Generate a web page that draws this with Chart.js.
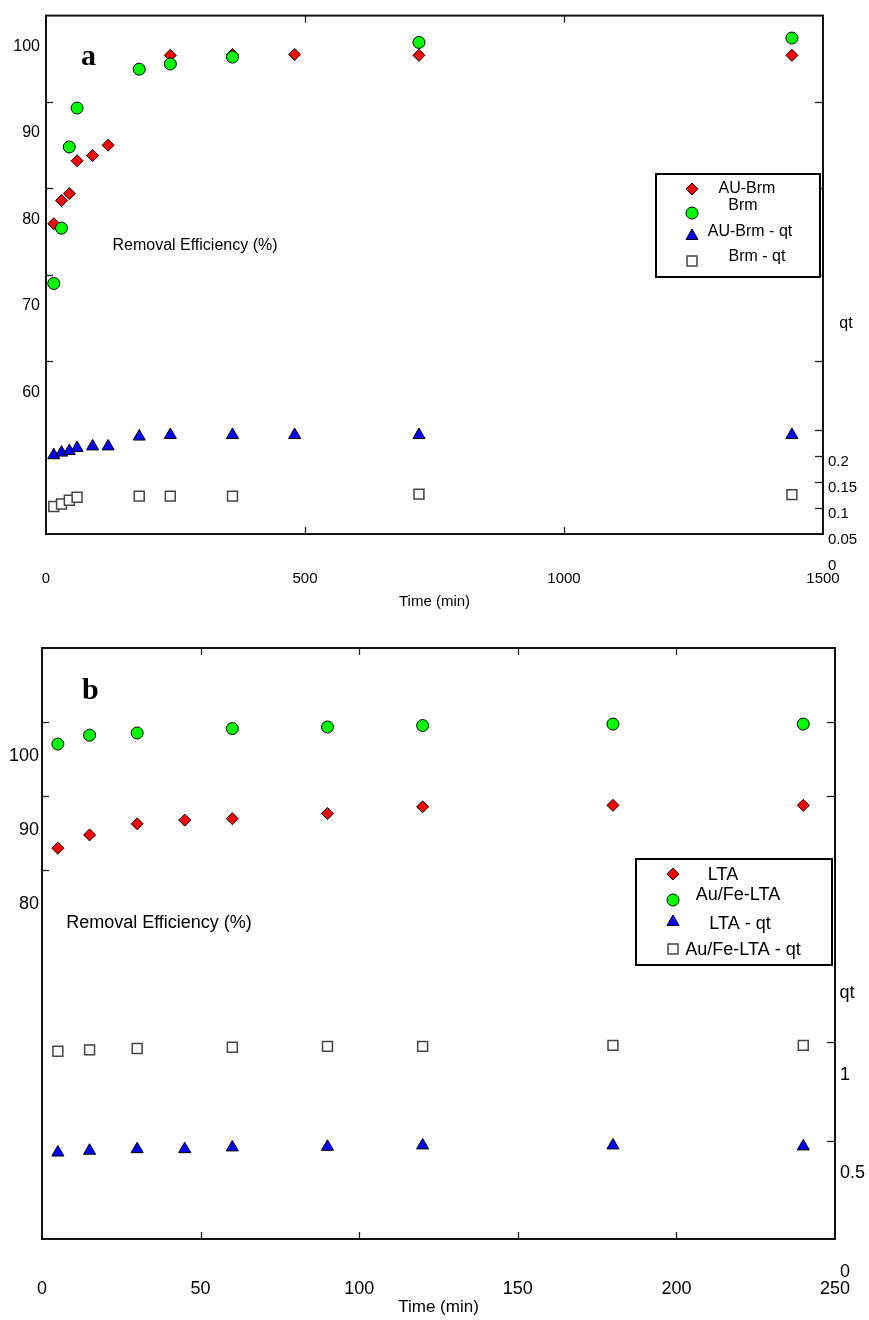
<!DOCTYPE html>
<html>
<head>
<meta charset="utf-8">
<script src="https://cdn.jsdelivr.net/npm/chart.js"></script>
<style>
  body { margin: 0; background: #fff; }
  canvas { display: block; }
</style>
</head>
<body>
<canvas id="chartA" width="869" height="620"></canvas>
<canvas id="chartB" width="869" height="700"></canvas>
<script>
// ---- panel a: Brm / AU-Brm ----
const timesA = [15, 30, 45, 60, 90, 120, 180, 240, 360, 480, 720, 1440];
const auBrmRE = [75.9, 78.6, 79.4, 83.2, 83.8, 85.0, null, 95.4, 95.5, 95.5, 95.4, 95.4];
const brmRE = [69.0, 75.4, 84.8, 89.3, null, null, 93.8, 94.4, 95.2, null, 96.9, 97.4];
const auBrmQt = [0.202, 0.207, 0.210, 0.216, 0.219, 0.219, 0.238, 0.241, 0.241, 0.241, 0.241, 0.241];
const brmQt = [0.103, 0.108, 0.115, 0.121, null, null, 0.123, 0.123, 0.123, null, 0.127, 0.126];
const reTicksA = [60, 70, 80, 90, 100];
const qtTicksA = [0, 0.05, 0.1, 0.15, 0.2];

// ---- panel b: LTA / Au/Fe-LTA ----
const timesB = [5, 15, 30, 45, 60, 90, 120, 180, 240];
const ltaRE = [82.9, 84.7, 86.2, 86.7, 86.9, 87.6, 88.5, 88.7, 88.7];
const auFeLtaRE = [97.0, 98.2, 98.5, null, 99.1, 99.3, 99.5, 99.7, 99.7];
const ltaQt = [0.439, 0.448, 0.456, 0.456, 0.465, 0.468, 0.475, 0.475, 0.470];
const auFeLtaQt = [0.953, 0.960, 0.967, null, 0.973, 0.978, 0.978, 0.983, 0.983];
const reTicksB = [80, 90, 100];
const qtTicksB = [0, 0.5, 1];

Chart.defaults.color = "#000";
Chart.defaults.font.family = "'Liberation Sans', Arial, sans-serif";

function pts(times, vals) {
  return times.map((t, i) => ({ x: t, y: vals[i] }));
}

// marker styles shared by both panels
const diamond = { pointStyle: "rectRot", pointRadius: 6, backgroundColor: "#ff0000", borderColor: "#000", borderWidth: 1 };
const circle = { pointStyle: "circle", pointRadius: 6, backgroundColor: "#00ff00", borderColor: "#000", borderWidth: 1 };
const triangle = { pointStyle: "triangle", pointRadius: 7, backgroundColor: "#0000ff", borderColor: "#000", borderWidth: 1 };
const square = { pointStyle: "rect", pointRadius: 7, backgroundColor: "#fff", borderColor: "#444", borderWidth: 1.5 };

const plain = v => String(v);

// frame, inward tick marks, free texts and the boxed legend
const panelDecor = {
  id: "panelDecor",
  afterDraw(chart, args, opts) {
    const ctx = chart.ctx;
    const a = chart.chartArea;
    ctx.save();

    ctx.strokeStyle = "#111";
    ctx.lineWidth = 2;
    ctx.strokeRect(a.left, a.top, a.right - a.left, a.bottom - a.top);

    ctx.lineWidth = 1.3;
    ctx.strokeStyle = "#222";
    opts.marks.forEach(m => {
      const scale = chart.scales[m.scale];
      m.values.forEach(v => {
        const p = Math.round(scale.getPixelForValue(v)) + 0.5;
        ctx.beginPath();
        if (m.side === "left") { ctx.moveTo(a.left, p); ctx.lineTo(a.left + 7, p); }
        if (m.side === "right") { ctx.moveTo(a.right, p); ctx.lineTo(a.right - 8, p); }
        if (m.side === "top") { ctx.moveTo(p, a.top); ctx.lineTo(p, a.top + 7); }
        if (m.side === "bottom") { ctx.moveTo(p, a.bottom); ctx.lineTo(p, a.bottom - 7); }
        ctx.stroke();
      });
    });

    ctx.fillStyle = "#000";
    opts.texts.forEach(t => {
      ctx.font = t.font;
      ctx.textAlign = t.align || "center";
      ctx.textBaseline = t.baseline || "middle";
      ctx.fillText(t.text, t.x, t.y);
    });

    const lg = opts.legend;
    ctx.fillStyle = "#fff";
    ctx.fillRect(lg.x, lg.y, lg.w, lg.h);
    ctx.strokeStyle = "#000";
    ctx.lineWidth = 2;
    ctx.strokeRect(lg.x, lg.y, lg.w, lg.h);
    ctx.font = lg.font;
    ctx.textAlign = "center";
    ctx.textBaseline = "middle";
    chart.data.datasets.forEach((ds, i) => {
      const it = lg.items[i];
      ctx.fillStyle = ds.backgroundColor;
      ctx.strokeStyle = ds.borderColor;
      ctx.lineWidth = ds.borderWidth;
      Chart.helpers.drawPoint(ctx, {
        pointStyle: ds.pointStyle, radius: ds.pointRadius, rotation: 0, borderWidth: ds.borderWidth
      }, it.mx, it.my);
      ctx.fillStyle = "#000";
      ctx.fillText(ds.label, it.tx, it.ty);
    });
    ctx.restore();
  }
};

// fixed axis box sizes; the time axis also drops the side padding
// that its far-away labels would otherwise add to the layout
function fixedWidth(size) {
  return scale => { scale.width = size; };
}
function fixedHeight(size) {
  return scale => {
    scale.height = size;
    scale.paddingLeft = 0;
    scale.paddingRight = 0;
  };
}

function setTicks(values) {
  return scale => { scale.ticks = values.map(v => ({ value: v })); };
}

// panel a
new Chart(document.getElementById("chartA"), {
  type: "scatter",
  data: {
    datasets: [
      { label: "AU-Brm", data: pts(timesA, auBrmRE), yAxisID: "y", order: 1, ...diamond },
      { label: "Brm", data: pts(timesA, brmRE), yAxisID: "y", order: 0, ...circle },
      { label: "AU-Brm - qt", data: pts(timesA, auBrmQt), yAxisID: "y1", order: 2, ...triangle },
      { label: "Brm - qt", data: pts(timesA, brmQt), yAxisID: "y1", order: 3, ...square }
    ]
  },
  options: {
    responsive: false,
    animation: false,
    devicePixelRatio: 1,
    clip: false,
    layout: { autoPadding: false, padding: { top: 14, left: 0, right: 0, bottom: 0 } },
    plugins: {
      legend: { display: false },
      tooltip: { enabled: false },
      panelDecor: {
        marks: [
          { scale: "y", side: "left", values: [90, 80, 70, 60] },
          { scale: "y", side: "right", values: [90, 80, 70, 60] },
          { scale: "y1", side: "right", values: [0.25, 0.2, 0.15, 0.1] },
          { scale: "x", side: "top", values: [500, 1000] },
          { scale: "x", side: "bottom", values: [500, 1000] }
        ],
        texts: [
          { text: "a", x: 81, y: 65, font: "bold 30px 'Liberation Serif', serif", align: "left", baseline: "alphabetic" },
          { text: "Removal Efficiency (%)", x: 195, y: 246, font: "16px 'Liberation Sans', Arial" },
          { text: "qt", x: 846, y: 324, font: "16px 'Liberation Sans', Arial" }
        ],
        legend: {
          x: 656, y: 174, w: 164, h: 103, font: "16px 'Liberation Sans', Arial",
          items: [
            { mx: 692, my: 189, tx: 747, ty: 189 },
            { mx: 692, my: 213, tx: 743, ty: 206 },
            { mx: 692, my: 236, tx: 750, ty: 232 },
            { mx: 692, my: 261, tx: 757, ty: 257 }
          ]
        }
      }
    },
    scales: {
      x: {
        type: "linear", min: 0, max: 1500,
        ticks: { stepSize: 500, padding: 36, font: { size: 15 }, autoSkip: false, maxRotation: 0, callback: plain },
        grid: { display: false, drawTicks: false },
        border: { display: false },
        title: { display: true, text: "Time (min)", font: { size: 15 }, padding: { top: 0, bottom: 9 } },
        afterFit: fixedHeight(86)
      },
      y: {
        type: "linear", position: "left", min: 40, max: 100,
        afterBuildTicks: setTicks(reTicksA),
        ticks: { labelOffset: 31, padding: 6, font: { size: 16 }, autoSkip: false, callback: plain },
        grid: { display: false, drawTicks: false },
        border: { display: false },
        afterFit: fixedWidth(46)
      },
      y1: {
        type: "linear", position: "right", min: 0.05, max: 1.05,
        afterBuildTicks: setTicks(qtTicksA),
        ticks: { labelOffset: 6, padding: 5, font: { size: 15 }, autoSkip: false, callback: plain },
        grid: { display: false, drawTicks: false },
        border: { display: false },
        afterFit: fixedWidth(46)
      }
    }
  },
  plugins: [panelDecor]
});

// panel b
new Chart(document.getElementById("chartB"), {
  type: "scatter",
  data: {
    datasets: [
      { label: "LTA", data: pts(timesB, ltaRE), yAxisID: "y", order: 1, ...diamond },
      { label: "Au/Fe-LTA", data: pts(timesB, auFeLtaRE), yAxisID: "y", order: 0, ...circle },
      { label: "LTA - qt", data: pts(timesB, ltaQt), yAxisID: "y1", order: 2, ...triangle },
      { label: "Au/Fe-LTA - qt", data: pts(timesB, auFeLtaQt), yAxisID: "y1", order: 3, ...square }
    ]
  },
  options: {
    responsive: false,
    animation: false,
    devicePixelRatio: 1,
    clip: false,
    layout: { autoPadding: false, padding: { top: 28, left: 0, right: 0, bottom: 0 } },
    plugins: {
      legend: { display: false },
      tooltip: { enabled: false },
      panelDecor: {
        marks: [
          { scale: "y", side: "left", values: [100, 90, 80] },
          { scale: "y", side: "right", values: [100, 90] },
          { scale: "y1", side: "right", values: [1, 0.5] },
          { scale: "x", side: "top", values: [50, 100, 150, 200] },
          { scale: "x", side: "bottom", values: [50, 100, 150, 200] }
        ],
        texts: [
          { text: "b", x: 82, y: 79, font: "bold 30px 'Liberation Serif', serif", align: "left", baseline: "alphabetic" },
          { text: "Removal Efficiency (%)", x: 159, y: 303, font: "18px 'Liberation Sans', Arial" },
          { text: "qt", x: 847, y: 373, font: "18px 'Liberation Sans', Arial" }
        ],
        legend: {
          x: 636, y: 239, w: 196, h: 106, font: "18px 'Liberation Sans', Arial",
          items: [
            { mx: 673, my: 254, tx: 723, ty: 255 },
            { mx: 673, my: 280, tx: 738, ty: 275 },
            { mx: 673, my: 302, tx: 740, ty: 304 },
            { mx: 673, my: 329, tx: 743, ty: 330 }
          ]
        }
      }
    },
    scales: {
      x: {
        type: "linear", min: 0, max: 250,
        ticks: { stepSize: 50, padding: 39, font: { size: 18 }, autoSkip: false, maxRotation: 0, callback: plain },
        grid: { display: false, drawTicks: false },
        border: { display: false },
        title: { display: true, text: "Time (min)", font: { size: 17 }, padding: { top: 0, bottom: 2 } },
        afterFit: fixedHeight(81)
      },
      y: {
        type: "linear", position: "left", min: 30, max: 110,
        afterBuildTicks: setTicks(reTicksB),
        ticks: { labelOffset: 34, padding: 3, font: { size: 18 }, autoSkip: false, callback: plain },
        grid: { display: false, drawTicks: false },
        border: { display: false },
        afterFit: fixedWidth(42)
      },
      y1: {
        type: "linear", position: "right", min: 0, max: 3,
        afterBuildTicks: setTicks(qtTicksB),
        ticks: { labelOffset: 33, padding: 5, font: { size: 18 }, autoSkip: false, callback: plain },
        grid: { display: false, drawTicks: false },
        border: { display: false },
        afterFit: fixedWidth(34)
      }
    }
  },
  plugins: [panelDecor]
});
</script>
</body>
</html>
